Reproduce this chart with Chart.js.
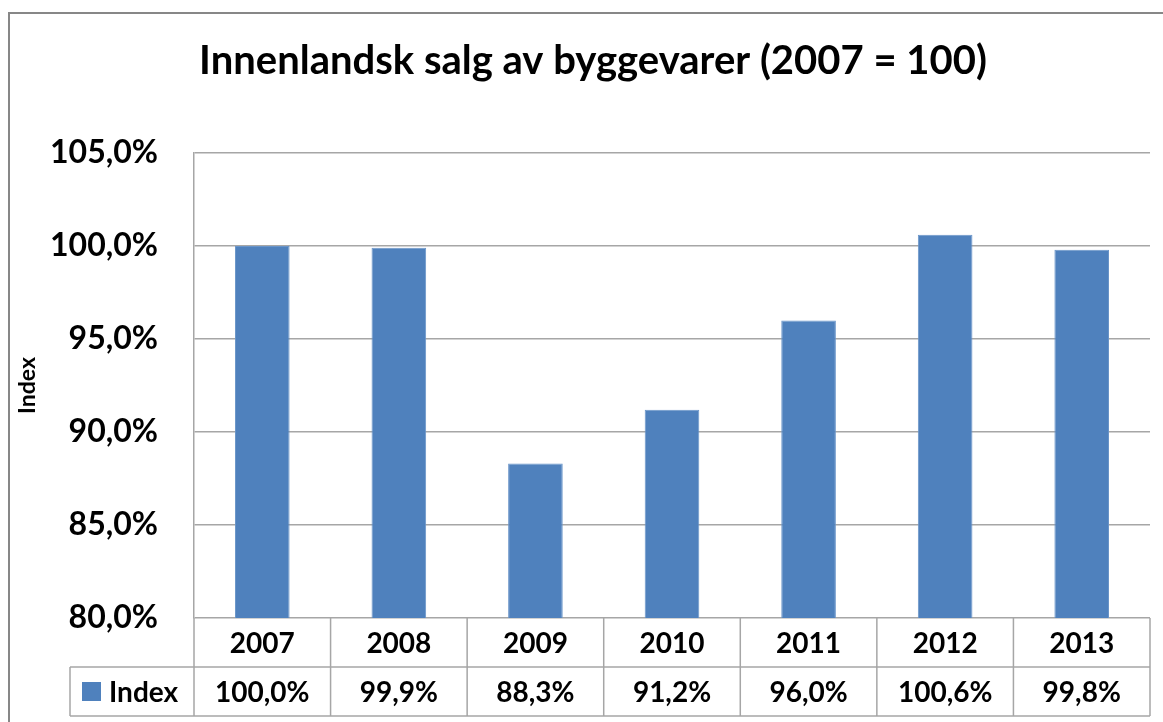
<!DOCTYPE html>
<html><head><meta charset="utf-8">
<script src="https://cdn.jsdelivr.net/npm/chart.js@4/dist/chart.umd.min.js"></script>
<style>html,body{margin:0;padding:0;background:#fff;overflow:hidden}#c{display:block}</style>
</head>
<body>
<canvas id="c" width="1163" height="722"></canvas>
<script>
const chartTitle = 'Innenlandsk salg av byggevarer (2007 = 100)';
const categories = ['2007', '2008', '2009', '2010', '2011', '2012', '2013'];
const seriesName = 'Index';
const values = [100.0, 99.9, 88.3, 91.2, 96.0, 100.6, 99.8];
const yMin = 80, yMax = 105, yStep = 5;
const axisTitle = 'Index';

const FONT = 'Lato, "Open Sans", sans-serif';
const BAR = '#4F81BD';
const LINE = '#A6A6A6';
const fmt = v => v.toFixed(1).replace('.', ',') + '%';

const framePlugin = {
  id: 'frame',
  beforeDraw(chart) {
    const ctx = chart.ctx;
    ctx.save();
    ctx.fillStyle = '#fff';
    ctx.fillRect(0, 0, chart.width, chart.height);
    ctx.strokeStyle = '#878787';
    ctx.lineWidth = 2;
    ctx.beginPath();
    ctx.moveTo(9, chart.height + 5);
    ctx.lineTo(9, 13);
    ctx.lineTo(chart.width + 5, 13);
    ctx.stroke();
    // title
    ctx.fillStyle = '#000';
    ctx.font = 'bold 40px ' + FONT;
    ctx.textAlign = 'center';
    ctx.textBaseline = 'alphabetic';
    ctx.fillText(chartTitle, 593, 74);
    ctx.restore();
  },
  afterDraw(chart) {
    const ctx = chart.ctx;
    const xs = chart.scales.x;
    const area = chart.chartArea;
    const n = categories.length;
    const cw = xs.width / n;
    const top = area.bottom;
    const r1 = top + 49, r2 = top + 98;
    const legLeft = 70;
    ctx.save();
    ctx.strokeStyle = LINE;
    ctx.lineWidth = 1.5;
    ctx.beginPath();
    ctx.moveTo(legLeft, r1); ctx.lineTo(xs.right, r1);
    ctx.moveTo(legLeft, r2); ctx.lineTo(xs.right, r2);
    ctx.moveTo(legLeft, r1); ctx.lineTo(legLeft, r2);
    for (let i = 0; i <= n; i++) {
      const bx = i < n ? xs.getPixelForValue(i) - cw / 2 : xs.getPixelForValue(n - 1) + cw / 2;
      ctx.moveTo(bx, top); ctx.lineTo(bx, r2);
    }
    ctx.stroke();
    ctx.fillStyle = '#000';
    ctx.font = 'bold 28px ' + FONT;
    ctx.textAlign = 'center';
    ctx.textBaseline = 'middle';
    const ds = chart.data.datasets[0];
    categories.forEach((c, i) => {
      const cx = xs.getPixelForValue(i);
      ctx.fillText(c, cx, (top + r1) / 2 + 1);
      ctx.fillText(fmt(ds.data[i]), cx, (r1 + r2) / 2 + 1);
    });
    // legend key
    ctx.fillStyle = BAR;
    ctx.fillRect(82, r1 + 15, 19, 19);
    ctx.fillStyle = '#000';
    ctx.textAlign = 'left';
    ctx.fillText(ds.label, 109, (r1 + r2) / 2 + 1);
    ctx.restore();
  }
};

new Chart(document.getElementById('c'), {
  type: 'bar',
  data: {
    labels: categories,
    datasets: [{
      label: seriesName,
      data: values,
      backgroundColor: BAR,
      borderColor: '#6A95C9',
      borderWidth: 1,
      barPercentage: 0.4,
      categoryPercentage: 1.0
    }]
  },
  options: {
    responsive: false,
    animation: false,
    devicePixelRatio: 1,
    layout: { padding: { top: 153, bottom: 104, right: 13, left: 0 } },
    plugins: { legend: { display: false }, title: { display: false }, tooltip: { enabled: false } },
    scales: {
      x: { display: false, offset: true, grid: { display: false } },
      y: {
        min: yMin, max: yMax,
        afterFit(scale) { scale.width = 194; },
        border: { display: true, color: LINE, width: 1.5 },
        grid: { color: LINE, lineWidth: 1.5, drawTicks: false },
        ticks: {
          stepSize: yStep,
          padding: 36,
          color: '#000',
          font: { family: FONT, size: 32, weight: 'bold' },
          callback: v => fmt(v)
        },
        title: {
          display: true,
          text: axisTitle,
          color: '#000',
          font: { family: FONT, size: 23, weight: 'bold' },
          padding: { top: 14, bottom: 0 }
        }
      }
    }
  },
  plugins: [framePlugin]
});
</script>
</body></html>
